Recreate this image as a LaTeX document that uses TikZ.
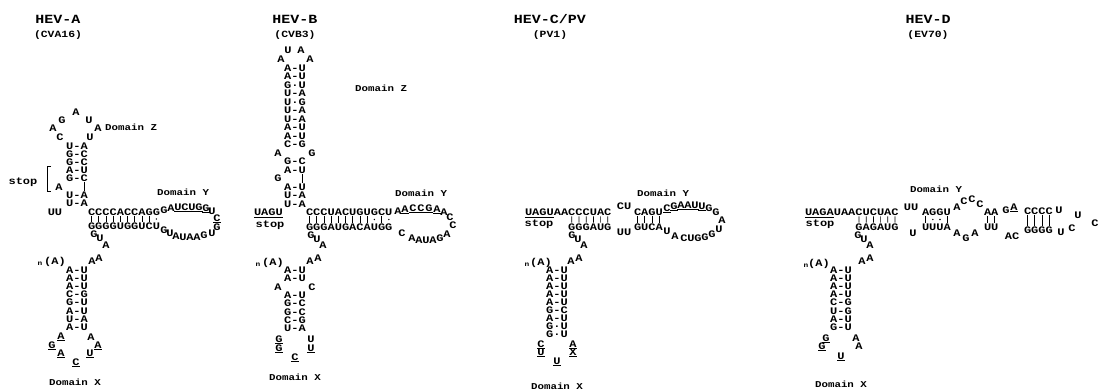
\documentclass[tikz,border=0pt]{standalone}
\usepackage{fontspec}
\usetikzlibrary{calc}
\newfontfamily\sq[FakeStretch=1.2]{Liberation Mono}
\def\w{7.2}
\tikzset{
 nt/.style={font=\sq\bfseries\fontsize{10}{10}\selectfont, inner sep=0pt, text height=6.6pt, text depth=0pt},
 dom/.style={font=\sq\bfseries\fontsize{9}{9}\selectfont, inner sep=0pt, text height=6pt, text depth=0pt},
 hd/.style={font=\sq\bfseries\fontsize{12.5}{12.5}\selectfont, inner sep=0pt, text height=8.2pt, text depth=0pt},
 sb/.style={font=\sq\bfseries\fontsize{9.5}{9.5}\selectfont, inner sep=0pt, text height=6.3pt, text depth=0pt},
 nsm/.style={font=\sq\bfseries\fontsize{6.5}{6.5}\selectfont, inner sep=0pt},
 pbar/.style={line width=0.7pt, shorten <=0.8pt, shorten >=0.8pt},
 uline/.style={line width=0.7pt},
 dotp/.style={circle, fill, inner sep=0pt, minimum size=1.6pt},
}
\newcommand\myloop[2]{\foreach \px/\py/\lt/\ff [count=\i] in {#2} {\node[nt] (#1\i) at (\px,\py) {\lt}; \ifnum\ff=1 \draw[uline] ([yshift=-1.3pt]#1\i.south west) -- ([yshift=-1.3pt]#1\i.south east);\fi}}
\newcommand\mystem[3]{\foreach \py/\lt [count=\i] in {#3} {\node[nt] (#1\i) at (#2,\py) {\lt};}}
\newcommand\mystrand[4]{\foreach \lt [count=\i] in {#4} {\node[nt] (#1\i) at ({#2+(\i-0.5)*\w},#3) {\lt};}}
\newcommand\mybars[3]{\foreach \ia/\ib in {#3} {\draw[pbar] (#1\ia) -- (#2\ib);}}
\newcommand\mydots[3]{\foreach \ia/\ib in {#3} {\node[dotp] (#1#2\ia) at ($(#1\ia)!0.5!(#2\ib)$) {};}}
\begin{document}
\begin{tikzpicture}[x=1pt,y=-1pt]
\fill[white] (0,0) rectangle (1111,391);
\useasboundingbox (0,0) rectangle (1111,391);
% ===== Panel A =====
\node[hd] (hA) at (58,19) {HEV-A};
\node[sb] (sA) at (58,34) {(CVA16)};
\myloop{aZl}{76/112/A/0, 62/120/G/0, 89/120/U/0, 53/128/A/0, 98/128/A/0, 60/137/C/0, 90/137/U/0}
\node[dom,anchor=west] (aDZ) at (105,127) {Domain Z};
\mystem{aS}{77}{146/U-A,154/G-C,162/G-C,170/A-U,178/G-C,195/U-A,203/U-A}
\node[nt] (aBul) at (59,187) {A};
\draw[pbar] ([xshift=\w pt]aS5.south) -- ([xshift=\w pt]aS6.north);
\draw[uline] (51,166) -- (47,166) -- (47,191) -- (51,191);
\node[nt] (aStop) at (23,181) {stop};
\node[nt] (aUU) at (55,212) {UU};
\mystrand{aT}{88}{212}{C,C,C,C,A,C,C,A,G,G}
\mystrand{aB}{88}{226}{G,G,G,G,U,G,G,U,C,U}
\mybars{aT}{aB}{1/1,2/2,3/3,4/4,5/5,6/6,7/7,8/8,9/9}
\mydots{aT}{aB}{10/10}
\node[dom,anchor=west] (aDY) at (157,192) {Domain Y};
\myloop{aYl}{164/210/G/0, 171/208/A/0, 178/207/U/1, 185/207/C/1, 192/207/U/1, 199/207/G/1, 206/208/G/1, 212/211/U/0, 217/218/C/1, 217/227/G/0, 212/233/U/0, 204/235/G/0, 197/237/A/0, 190/237/A/0, 183/237/U/0, 176/236/A/0, 170/233/U/0, 164/230/G/0}
\myloop{aLk}{94/234/G/0, 100/238/U/0, 106/245/A/0, 99/258/A/0, 92/261/A/0}
\node[nsm] (aN) at (40,264) {n};
\node[nt] (aPA) at (55,261) {(A)};
\mystem{aX}{77}{270/A-U,278/A-U,286/A-U,294/C-G,302/G-U,311/A-U,319/U-A,327/A-U}
\myloop{aXl}{61/336/A/1, 52/345/G/1, 61/353/A/1, 76/362/C/1, 90/353/U/1, 98/345/A/1, 91/337/A/0}
\node[dom] (aDX) at (75,382) {Domain X};
% ===== Panel B =====
\node[hd] (hB) at (295,19) {HEV-B};
\node[sb] (sB) at (295,34) {(CVB3)};
\myloop{bZl}{281/59/A/0, 288/50/U/0, 301/50/A/0, 310/59/A/0}
\mystem{bS}{295}{68/A-U,76.5/A-U,85/G·U,93.5/U-A,102/U·G,110.5/U-A,119/U-A,127.5/A-U,136/A-U,144.5/C-G,161.5/G-C,170/A-U,187/A-U,195.5/U-A,204/U-A}
\node[nt] (bIA) at (278,153) {A};
\node[nt] (bIG) at (312,153) {G};
\node[nt] (bBul) at (278,178.5) {G};
\draw[pbar] ([xshift=\w pt]bS12.south) -- ([xshift=\w pt]bS13.north);
\node[dom,anchor=west] (bDZ) at (355,88) {Domain Z};
\mystrand{bU}{254}{212}{U,A,G,U}
\draw[uline] ([yshift=-1.8pt]bU1.south west) -- ([yshift=-1.8pt]bU4.south east);
\node[nt] (bStop) at (270,224) {stop};
\mystrand{bT}{306}{212}{C,C,C,U,A,C,U,G,U,G,C,U}
\mystrand{bB}{306}{227}{G,G,G,A,U,G,A,C,A,U,G,G}
\mybars{bT}{bB}{1/1,2/2,3/3,4/4,5/5,6/6,7/7,8/8,9/9,11/11}
\mydots{bT}{bB}{10/10,12/12}
\node[dom,anchor=west] (bDY) at (395,193) {Domain Y};
\myloop{bYl}{398/211/A/0, 405/209/A/1, 413/208/C/1, 421/208/C/1, 429/208/G/1, 437/209/A/1, 444/212/A/0, 450/217/C/0, 453/225/C/0, 447/234/A/0, 440/238/G/0, 433/240/A/0, 426/240/U/0, 419/240/A/0, 412/238/A/0, 402/233/C/0}
\myloop{bLk}{311/235/G/0, 317/239/U/0, 323/245/A/0, 318/258/A/0, 310/261/A/0}
\node[nsm] (bN) at (258,265) {n};
\node[nt] (bPA) at (273,262) {(A)};
\mystem{bX}{295}{270/A-U,278/A-U,295/A-U,303/G-C,312/G-C,320/C-G,328/U-A}
\node[nt] (bXA) at (278,287) {A};
\node[nt] (bXC) at (312,287) {C};
\myloop{bXl}{279/339/G/1, 279/348/G/1, 295/357/C/1, 311/348/U/1, 311/339/U/0}
\node[dom] (bDX) at (295,377) {Domain X};
% ===== Panel C =====
\node[hd] (hC) at (550,19) {HEV-C/PV};
\node[sb] (sC) at (550,34) {(PV1)};
\mystrand{cT}{525}{212}{U,A,G,U,A,A,C,C,C,U,A,C}
\draw[uline] ([yshift=-1.8pt]cT1.south west) -- ([yshift=-1.8pt]cT4.south east);
\node[nt] (cStop) at (539,223) {stop};
\mystrand{cB}{568.2}{227}{G,G,G,A,U,G}
\mybars{cT}{cB}{7/1,8/2,9/3,10/4,11/5,12/6}
\node[nt] (cCU) at (624,206) {CU};
\node[nt] (cUU) at (624,232) {UU};
\mystrand{cP}{634}{212}{C,A,G,U}
\mystrand{cQ}{634}{227}{G,U,C,A}
\mybars{cP}{cQ}{1/1,2/2,3/3,4/4}
\node[dom,anchor=west] (cDY) at (637,193) {Domain Y};
\myloop{cYl}{667/208/C/1, 674/206/G/1, 681/205/A/1, 688/205/A/1, 695/205/U/1, 702/206/U/1, 709/208/G/0, 716/212/G/0, 722/220/A/0, 719/229/U/0, 712/234/G/0, 705/237/G/0, 698/238/G/0, 691/238/U/0, 684/238/C/0, 675/236/A/0, 667/231/U/0}
\myloop{cLk}{572/235/G/0, 578/239/U/0, 584/245/A/0, 579/258/A/0, 571/261/A/0}
\node[nsm] (cN) at (527,265) {n};
\node[nt] (cPA) at (541,262) {(A)};
\mystem{cX}{557}{270/A-U,278/A-U,286/A-U,294/A-U,302/A-U,310/G-C,318/A-U,326/G·U,334/G·U}
\myloop{cXl}{541/344/C/1, 541/352/U/1, 557/361/U/1, 573/352/X/1, 573/344/A/1}
\node[dom] (cDX) at (557,386) {Domain X};
% ===== Panel D =====
\node[hd] (hD) at (928,19) {HEV-D};
\node[sb] (sD) at (928,34) {(EV70)};
\mystrand{dT}{805}{212}{U,A,G,A,U,A,A,C,U,C,U,A,C}
\draw[uline] ([yshift=-1.8pt]dT1.south west) -- ([yshift=-1.8pt]dT4.south east);
\node[nt] (dStop) at (820,223) {stop};
\mystrand{dB}{855.4}{227}{G,A,G,A,U,G}
\mybars{dT}{dB}{8/1,9/2,10/3,11/4,12/5,13/6}
\node[nt] (dUU) at (911,207) {UU};
\node[nt] (dU1) at (913,233) {U};
\mystrand{dP}{922}{212}{A,G,G,U}
\mystrand{dQ}{922}{227}{U,U,U,A}
\mybars{dP}{dQ}{1/1,4/4}
\mydots{dP}{dQ}{2/2,3/3}
\node[dom,anchor=west] (dDY) at (910,189) {Domain Y};
\myloop{dIl}{957/207/A/0, 964/201/C/0, 972/199/C/0, 980/204/C/0}
\mystrand{dR}{984}{212}{A,A}
\mystrand{dS}{984}{227}{U,U}
\mybars{dR}{dS}{1/1,2/2}
\myloop{dJl}{957/233/A/0, 966/238/G/0, 975/233/A/0}
\myloop{dKl}{1006/210/G/0, 1014/207/A/1}
\node[nt] (dAC) at (1012,236) {AC};
\mystrand{dV}{1024}{211}{C,C,C,C}
\mystrand{dW}{1024}{230}{G,G,G,G}
\mybars{dV}{dW}{1/1,2/2,3/3,4/4}
\myloop{dHl}{1059/210/U/0, 1078/215/U/0, 1095/223/C/0, 1072/228/C/0, 1061/232/U/0}
\myloop{dLk}{858/235/G/0, 864/239/U/0, 870/245/A/0, 870/258/A/0, 862/261/A/0}
\node[nsm] (dN) at (806,266) {n};
\node[nt] (dPA) at (819,263) {(A)};
\mystem{dX}{841}{270/A-U,278/A-U,286/A-U,294/A-U,302/C-G,311/U-G,319/A-U,327/G-U}
\myloop{dXl}{826/338/G/1, 822/346/G/1, 841/356/U/1, 859/346/A/0, 856/338/A/0}
\node[dom] (dDX) at (841,384) {Domain X};
\end{tikzpicture}
\end{document}
